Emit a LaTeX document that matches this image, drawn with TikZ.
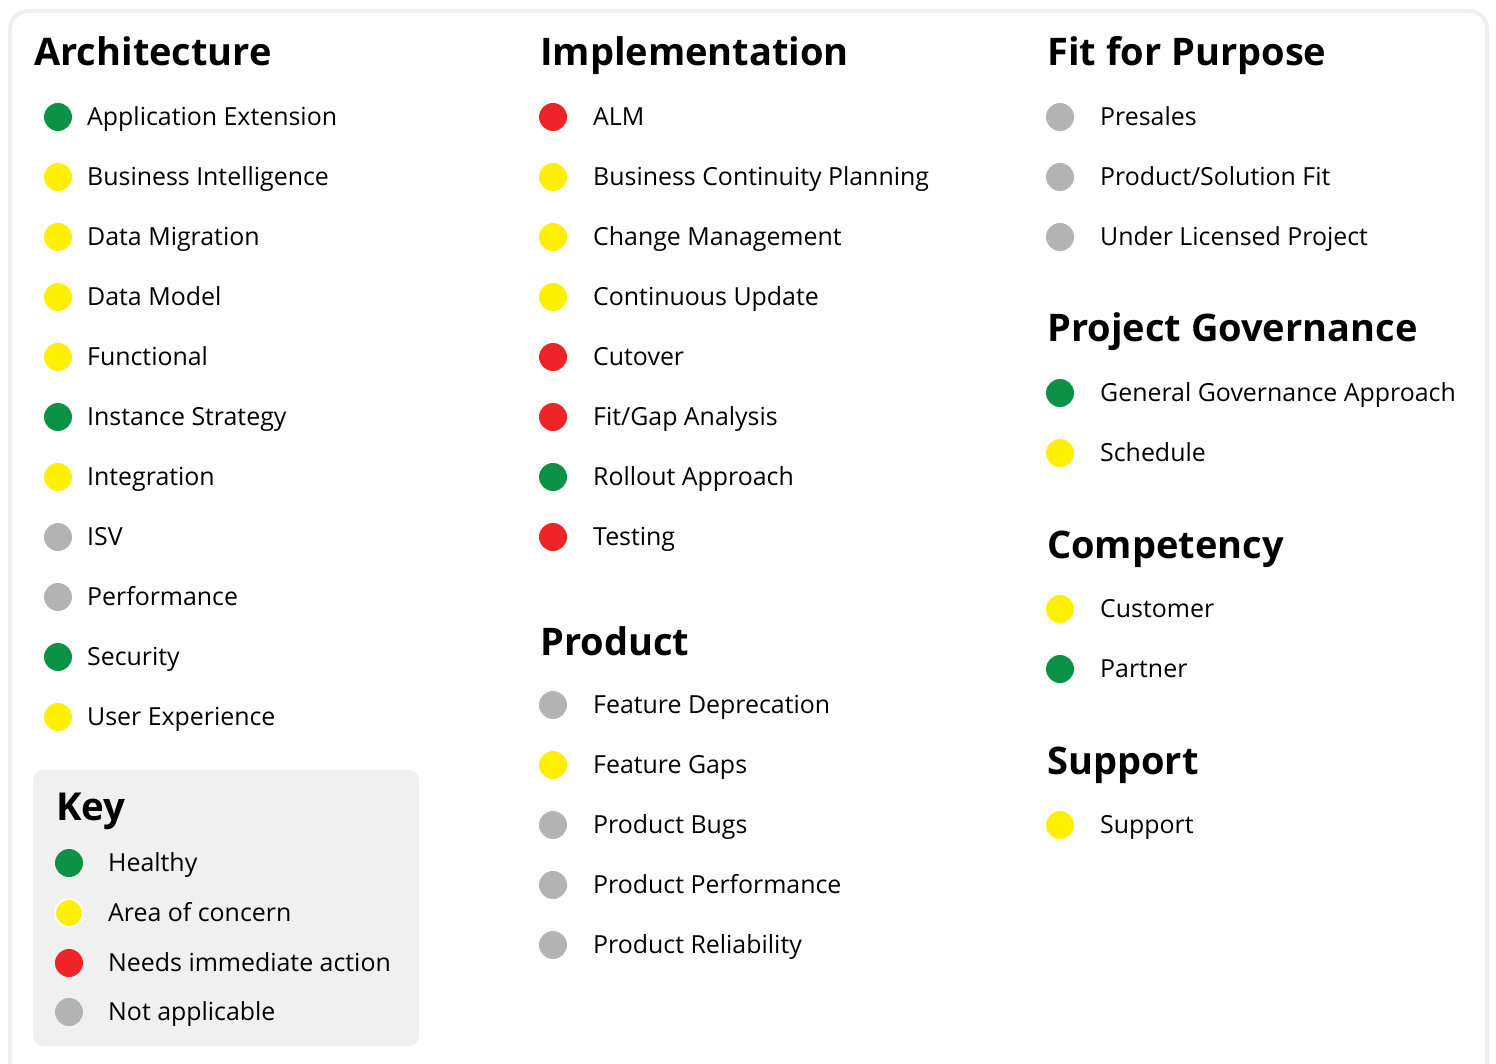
\documentclass[tikz,border=0pt]{standalone}
\usepackage{fontspec}
\setmainfont{Open Sans}
\definecolor{okgreen}{HTML}{0B9246}
\definecolor{warnyellow}{HTML}{FFF000}
\definecolor{alertred}{HTML}{EE2429}
\definecolor{nagray}{HTML}{B3B3B3}
\definecolor{framegray}{HTML}{EFEFEF}
\definecolor{keybg}{HTML}{F0F0F0}
\tikzset{
  dot/.style={circle, inner sep=0pt, minimum size=28pt},
  itemtext/.style={anchor=base west, inner sep=0pt, font=\fontsize{24.9}{28}\selectfont},
  heading/.style={anchor=base west, inner sep=0pt, font=\fontsize{38}{44}\selectfont\bfseries},
  keyheading/.style={anchor=base west, inner sep=0pt, font=\fontsize{38.5}{44}\selectfont\bfseries},
}
% name, dot x, text x, y, colour, text
\newcommand\statusrow[6]{%
  \node[dot, fill=#5] (#1d) at (#2,#4) {};
  \node[itemtext] (#1t) at (#3,#4+8.5) {#6};
}
\begin{document}
\begin{tikzpicture}[x=1pt,y=-1pt]
\useasboundingbox (0,0) rectangle (1496,1064);
\fill[white] (0,0) rectangle (1496,1064);
\draw[framegray, line width=4pt, rounded corners=18pt] (10,11) rectangle (1487,1090);
\fill[keybg, rounded corners=10pt] (33,770) rectangle (419,1046);

% Architecture
\node[heading] (harch) at (34,66) {Architecture};
\statusrow{a1}{58}{87}{117}{okgreen}{Application Extension}
\statusrow{a2}{58}{87}{177}{warnyellow}{Business Intelligence}
\statusrow{a3}{58}{87}{237}{warnyellow}{Data Migration}
\statusrow{a4}{58}{87}{297}{warnyellow}{Data Model}
\statusrow{a5}{58}{87}{357}{warnyellow}{Functional}
\statusrow{a6}{58}{87}{417}{okgreen}{Instance Strategy}
\statusrow{a7}{58}{87}{477}{warnyellow}{Integration}
\statusrow{a8}{58}{87}{537}{nagray}{ISV}
\statusrow{a9}{58}{87}{597}{nagray}{Performance}
\statusrow{a10}{58}{87}{657}{okgreen}{Security}
\statusrow{a11}{58}{87}{717}{warnyellow}{User Experience}

% Key
\node[keyheading] (hkey) at (56,820) {Key};
\statusrow{k1}{69}{108}{863}{okgreen}{Healthy}
\node[dot, fill=warnyellow, draw=white, line width=2pt] (k2d) at (69,913) {};
\node[itemtext] (k2t) at (108,921.5) {Area of concern};
\statusrow{k3}{69}{108}{963}{alertred}{Needs immediate action}
\statusrow{k4}{69}{108}{1012}{nagray}{Not applicable}

% Implementation
\node[heading] (himpl) at (540,66) {Implementation};
\statusrow{i1}{553}{593}{117}{alertred}{ALM}
\statusrow{i2}{553}{593}{177}{warnyellow}{Business Continuity Planning}
\statusrow{i3}{553}{593}{237}{warnyellow}{Change Management}
\statusrow{i4}{553}{593}{297}{warnyellow}{Continuous Update}
\statusrow{i5}{553}{593}{357}{alertred}{Cutover}
\statusrow{i6}{553}{593}{417}{alertred}{Fit/Gap Analysis}
\statusrow{i7}{553}{593}{477}{okgreen}{Rollout Approach}
\statusrow{i8}{553}{593}{537}{alertred}{Testing}

% Product
\node[heading] (hprod) at (540,655) {Product};
\statusrow{p1}{553}{593}{705}{nagray}{Feature Deprecation}
\statusrow{p2}{553}{593}{765}{warnyellow}{Feature Gaps}
\statusrow{p3}{553}{593}{825}{nagray}{Product Bugs}
\statusrow{p4}{553}{593}{885}{nagray}{Product Performance}
\statusrow{p5}{553}{593}{945}{nagray}{Product Reliability}

% Fit for Purpose
\node[heading] (hfit) at (1047,66) {Fit for Purpose};
\statusrow{f1}{1060}{1100}{117}{nagray}{Presales}
\statusrow{f2}{1060}{1100}{177}{nagray}{Product/Solution Fit}
\statusrow{f3}{1060}{1100}{237}{nagray}{Under Licensed Project}

% Project Governance
\node[heading] (hgov) at (1047,342) {Project Governance};
\statusrow{g1}{1060}{1100}{393}{okgreen}{General Governance Approach}
\statusrow{g2}{1060}{1100}{453}{warnyellow}{Schedule}

% Competency
\node[heading] (hcomp) at (1047,558) {Competency};
\statusrow{c1}{1060}{1100}{609}{warnyellow}{Customer}
\statusrow{c2}{1060}{1100}{669}{okgreen}{Partner}

% Support
\node[heading] (hsup) at (1047,774) {Support};
\statusrow{s1}{1060}{1100}{825}{warnyellow}{Support}
\end{tikzpicture}
\end{document}
